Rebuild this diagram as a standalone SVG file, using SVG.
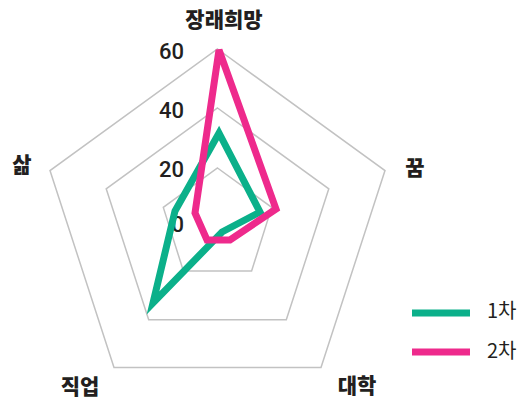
<svg xmlns="http://www.w3.org/2000/svg" width="523" height="403" viewBox="0 0 523 403">
<style>
.grid{fill:none;stroke:#c2c2c2;stroke-width:1.5}
.axis{font-family:"Noto Sans CJK KR","Noto Sans",sans-serif;font-weight:900;font-size:21px;fill:#231f20;text-anchor:middle}
.num{font-family:Roboto,"Liberation Sans",sans-serif;font-weight:500;font-size:22px;fill:#231f20;text-anchor:end}
.leg{font-family:"Noto Sans CJK KR","Noto Sans",sans-serif;font-size:20px;fill:#231f20}
.s1{fill:none;stroke:#0bb08a;stroke-width:7;stroke-linejoin:miter}
.s2{fill:none;stroke:#ee2a8c;stroke-width:7;stroke-linejoin:miter}
</style>
<rect width="523" height="403" fill="#ffffff"/>
<g id="grid">
<polygon class="grid" points="217.5,49 385,170.6 321,367.4 114,367.4 50,170.6"/>
<polygon class="grid" points="217.5,108 328.8,188.8 286.3,319.7 148.7,319.7 106.2,188.8"/>
<polygon class="grid" points="217.5,168 271.7,207.4 251.6,271 183.4,271 163.3,207.4"/>
</g>
<g id="scale">
<text class="num" x="184" y="59">60</text>
<text class="num" x="184" y="118">40</text>
<text class="num" x="184" y="177">20</text>
<text class="num" x="184" y="232">0</text>
</g>
<g id="series">
<polygon id="s1" class="s1" points="219,133 260,212 222,232 153,303 175,211"/>
<polygon id="s2" class="s2" points="219,50 276,209 230,240 207,240 195,213"/>
</g>
<g id="labels">
<text class="axis" x="224" y="27">장래희망</text>
<text class="axis" x="415" y="175">꿈</text>
<text class="axis" x="357" y="393">대학</text>
<text class="axis" x="80" y="394">직업</text>
<text class="axis" x="22" y="172">삶</text>
</g>
<g id="legend">
<line x1="412" y1="313" x2="470" y2="313" stroke="#0bb08a" stroke-width="7"/>
<line x1="412" y1="352" x2="470" y2="352" stroke="#ee2a8c" stroke-width="7"/>
<text class="leg" x="487" y="318">1차</text>
<text class="leg" x="487" y="358">2차</text>
</g>
</svg>
